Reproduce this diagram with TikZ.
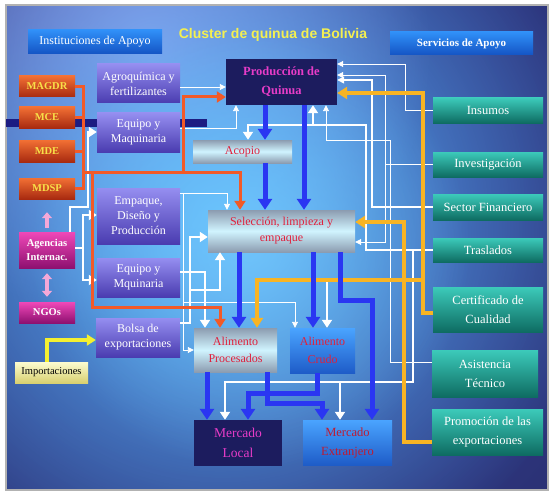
\documentclass[tikz,border=0pt]{standalone}
\usepackage{fontspec}
\setmainfont{Liberation Serif}
\setsansfont{Liberation Sans}
\usetikzlibrary{arrows.meta,fadings}
\definecolor{bgdark}{HTML}{282C68}
\definecolor{bgmid}{HTML}{3A4CB0}
\definecolor{glowblue}{HTML}{5AB8F8}
\definecolor{glowcore}{HTML}{78CCFF}
\definecolor{glowlav}{HTML}{A49CEE}
\definecolor{pTop}{HTML}{958EF0}
\definecolor{pBot}{HTML}{4A3CB0}
\definecolor{tTop}{HTML}{3CCABA}
\definecolor{tBot}{HTML}{0E6C62}
\definecolor{oTop}{HTML}{F27034}
\definecolor{oBot}{HTML}{A82A10}
\definecolor{mTop}{HTML}{F048B8}
\definecolor{mBot}{HTML}{8E1070}
\definecolor{cylEdge}{HTML}{8C9CB0}
\definecolor{cylMid}{HTML}{D0F4FF}
\definecolor{bTop}{HTML}{4AA4FF}
\definecolor{bBot}{HTML}{1E5CC8}
\definecolor{navy}{HTML}{1C1C5E}
\definecolor{hTop}{HTML}{3090F8}
\definecolor{hBot}{HTML}{1454C4}
\definecolor{arrblue}{HTML}{2A36F2}
\definecolor{arrorange}{HTML}{F25A28}
\definecolor{arryellow}{HTML}{F8B424}
\definecolor{impyellow}{HTML}{F4F030}
\definecolor{titleyellow}{HTML}{F4F050}
\definecolor{labyellow}{HTML}{F8E048}
\definecolor{txtred}{HTML}{E0203C}
\definecolor{txtmag}{HTML}{E83CC8}
\definecolor{pinkarr}{HTML}{F4A8D8}
\definecolor{barnavy}{HTML}{1C1C82}
\definecolor{impTop}{HTML}{FCFCD0}
\definecolor{impBot}{HTML}{D8D070}
\tikzfading[name=softglow, inner color=transparent!0, outer color=transparent!100]
\begin{document}
\begin{tikzpicture}[x=1pt,y=-1pt,
  box/.style={inner sep=1pt, align=center, text=white},
  purplebox/.style={box, top color=pTop, bottom color=pBot, minimum width=83, minimum height=39,
    font=\fontsize{12}{15}\selectfont},
  tealbox/.style={box, top color=tTop, bottom color=tBot, minimum width=110,
    font=\fontsize{12.5}{19}\selectfont},
  orbox/.style={box, top color=oTop, bottom color=oBot, minimum width=56, minimum height=21,
    text=labyellow, font=\bfseries\fontsize{10.5}{12}\selectfont},
  magbox/.style={box, top color=mTop, bottom color=mBot, minimum width=56,
    font=\bfseries\fontsize{10.5}{14}\selectfont},
  cylbox/.style={box, top color=cylEdge, bottom color=cylEdge, middle color=cylMid, text=txtred},
  bluebox/.style={box, top color=bTop, bottom color=bBot, text=txtred},
  navybox/.style={box, fill=navy, text=txtmag},
  hdrbox/.style={box, top color=hTop, bottom color=hBot},
  wthin/.style={draw=white, line width=0.9, -{Triangle[width=6pt,length=6pt]}},
  wmed/.style={draw=white, line width=1.6, -{Triangle[width=7pt,length=7pt]}},
  wthick/.style={draw=white, line width=2.6, -{Triangle[width=10pt,length=8pt]}},
  orline/.style={draw=arrorange, line width=3},
  orarr/.style={orline, -{Triangle[width=11pt,length=9pt]}},
  yel/.style={draw=arryellow, line width=3.5, -{Triangle[width=12pt,length=10pt]}},
  imparr/.style={draw=impyellow, line width=3.5, -{Triangle[width=11pt,length=9pt]}},
  bl/.style={draw=arrblue, line width=5, -{Triangle[width=14pt,length=11pt]}},
  pinkarrow/.style={draw=pinkarr, line width=4, -{Triangle[width=10pt,length=6pt]}}
]
\useasboundingbox (0,0) rectangle (552,495);
\fill[white] (0,0) rectangle (552,495);
% background
\begin{scope}
\clip (6,5) rectangle (548,490);
\fill[bgdark] (6,5) rectangle (548,490);
\fill[bgmid, path fading=softglow] (230,200) circle (520);
\fill[glowlav, path fading=softglow, opacity=0.9] (150,50) circle (280);
\fill[glowblue, path fading=softglow] (220,220) circle (390);
\fill[glowcore, path fading=softglow, opacity=0.7] (250,250) circle (220);
\end{scope}
\draw[gray!60, line width=1.2] (6,5) rectangle (548,490);
\fill[barnavy] (6,119) rectangle (207,127);

% title and headers
\node[font=\sffamily\bfseries\fontsize{14}{15}\selectfont, text=titleyellow] (title) at (273,35) {Cluster de quinua de Bolivia};
\node[hdrbox, minimum width=134, minimum height=24, font=\fontsize{12}{13}\selectfont] (inst) at (95,42) {Instituciones de Apoyo};
\node[hdrbox, minimum width=143, minimum height=23, font=\bfseries\fontsize{11}{12}\selectfont] (serv) at (461.5,43.5) {Servicios de Apoyo};

% left institutions
\node[orbox] (magdr) at (47,86.5) {MAGDR};
\node[orbox] (mce) at (47,117.5) {MCE};
\node[orbox, minimum height=22] (mde) at (47,151) {MDE};
\node[orbox] (mdsp) at (47,188.5) {MDSP};
\node[magbox, minimum height=36] (agen) at (47,250) {Agencias\\Internac.};
\node[magbox, minimum height=21] (ngos) at (47,312.5) {NGOs};
\node[box, top color=impTop, bottom color=impBot, text=black, minimum width=73, minimum height=21,
  font=\fontsize{10.5}{12}\selectfont] (impo) at (51.5,372.5) {Importaciones};

% purple boxes
\node[purplebox] (agro) at (138.5,83.5) {Agroquímica y\\fertilizantes};
\node[purplebox] (equ1) at (138.5,132.5) {Equipo y\\Maquinaria};
\node[purplebox, minimum height=56] (emp) at (138.5,216) {Empaque,\\Diseño y\\Producción};
\node[purplebox] (equ2) at (138.5,277.5) {Equipo y\\Mquinaria};
\node[purplebox, minimum width=84] (bolsa) at (138,337.5) {Bolsa de\\exportaciones};

% central chain
\node[navybox, minimum width=111, minimum height=46, font=\bfseries\fontsize{12.5}{19}\selectfont] (prod) at (281.5,82) {Producción de\\Quinua};
\node[cylbox, minimum width=99, minimum height=23, font=\fontsize{12}{13}\selectfont] (acopio) at (242.5,151.5) {Acopio};
\node[cylbox, minimum width=147, minimum height=42, font=\fontsize{12}{16}\selectfont] (selec) at (281.5,231) {Selección, limpieza y\\empaque};
\node[cylbox, minimum width=83, minimum height=44, font=\fontsize{12}{17}\selectfont] (alproc) at (235.5,350) {Alimento\\Procesados};
\node[bluebox, minimum width=65, minimum height=45, font=\fontsize{12}{18}\selectfont] (alcrudo) at (322.5,350.5) {Alimento\\Crudo};
\node[navybox, minimum width=88, minimum height=46, font=\fontsize{13.5}{20}\selectfont] (mlocal) at (238,443) {Mercado\\Local};
\node[bluebox, minimum width=89, minimum height=45, text=txtred!85!black, font=\fontsize{12.5}{19}\selectfont] (mext) at (347.5,442.5) {Mercado\\Extranjero};

% services
\node[tealbox, minimum height=25] (ins) at (488,110.5) {Insumos};
\node[tealbox, minimum height=25] (inv) at (488,164.5) {Investigación};
\node[tealbox, minimum height=26] (sect) at (488,207) {Sector Financiero};
\node[tealbox, minimum height=24] (tras) at (488,250) {Traslados};
\node[tealbox, minimum height=45] (cert) at (488,309.5) {Certificado de\\Cualidad};
\node[tealbox, minimum width=106, minimum height=47] (asis) at (485,373.5) {Asistencia\\Técnico};
\node[tealbox, minimum width=111, minimum height=46] (prom) at (487.5,432) {Promoción de las\\exportaciones};

% junctions
\coordinate (jInv) at (385,164.5);
\coordinate (jEmp) at (183,193);
\coordinate (jAg) at (83,248);
\coordinate (jTr) at (366,125);
\coordinate (jTr2) at (413,250);
\coordinate (jOr) at (83,172);

% thin white connectors
\draw[wthin] (ins.west) -| (405,64) -- (prod.east |- 0,64);
\draw[wthin] (inv.west) -- (jInv) |- (prod.east |- 0,75);
\draw[wthin] (jInv) |- (selec.east |- 0,242);
\draw[wmed] (sect.west) -| (372,80) -- (prod.east |- 0,80);
\draw[wthin] (asis.west |- 0,362) -| (390,140) -| (prod.south -| 326,0);
\draw[wthin] (agro.east |- 0,87) -- (prod.west |- 0,87);
\draw[wthin] (equ1.east |- 0,128) -| (prod.south -| 236,0);
\draw[wthin] (emp.east |- 0,193) -| (selec.north -| 227,0);
\draw[wthin] (jEmp) |- (alproc.west |- 0,350);
\draw[wthin] (183,302) -| (alcrudo.north -| 295,0);

% thick white connectors
\draw[wthick] (tras.west) -| (jTr) -| (acopio.north -| 248,0);
\draw[wthick] (313,125) -- (prod.south -| 313,0);
\draw[wthick] (413,280) -| (alcrudo.north -| 327,0);
\draw[wthick] (jTr2) -- (413,382) -| (mlocal.north -| 225,0);
\draw[wthick] (340,382) -- (mext.north -| 340,0);
\draw[wthick] (agen.north -| 70,0) |- (88,207) |- (equ1.west |- 0,132);
\draw[wthick] (agen.east |- 0,248) -- (jAg) |- (emp.west |- 0,215);
\draw[wthick] (jAg) |- (equ2.west |- 0,280);
\draw[wthick] (equ2.east |- 0,272) -| (alproc.north -| 205,0);
\draw[wthick] (bolsa.east |- 0,323) -| (190,237) -- (selec.west |- 0,237);
\draw[wthick] (190,290) -| (selec.south -| 220,0);

% orange connectors
\draw[orline] (magdr.east) -| (83,188.5) -- (mdsp.east);
\draw[orline] (mce.east) -- (83,117.5);
\draw[orline] (mde.east) -- (83,151);
\draw[orarr] (jOr) -| (selec.north -| 240,0);
\draw[orarr] (183,172) |- (prod.west |- 0,97);
\draw[orarr] (92,172) |- (220,307) -- (alproc.north -| 220,0);

% yellow connectors
\draw[yel] (cert.west |- 0,313) -| (423,93) -- (prod.east |- 0,93);
\draw[yel] (423,280) -| (alproc.north -| 257,0);
\draw[yel] (prom.west |- 0,442) -| (404,222) -- (selec.east |- 0,222);
\draw[imparr] (impo.north -| 47,0) |- (bolsa.west |- 0,340);

% blue flow
\draw[bl] (prod.south -| 265,0) -- (acopio.north -| 265,0);
\draw[bl] (acopio.south -| 265,0) -- (selec.north -| 265,0);
\draw[bl] (prod.south -| 304,0) -- (selec.north -| 304,0);
\draw[bl] (selec.south -| 239,0) -- (alproc.north -| 239,0);
\draw[bl] (selec.south -| 313,0) -- (alcrudo.north -| 313,0);
\draw[bl] (selec.south -| 340,0) |- (372,300) -- (mext.north -| 372,0);
\draw[bl] (alproc.south -| 207,0) -- (mlocal.north -| 207,0);
\draw[bl] (alproc.south -| 267,0) |- (322,403) -- (mext.north -| 322,0);
\draw[bl] (alcrudo.south -| 317,0) |- (248,393) -- (mlocal.north -| 248,0);

% pink arrows
\draw[pinkarrow, shorten <=4pt, shorten >=13pt] (agen.north) -- (mdsp.south);
\draw[pinkarrow, {Triangle[width=10pt,length=6pt]}-{Triangle[width=10pt,length=6pt]}, shorten <=5pt, shorten >=5pt] (agen.south) -- (ngos.north);
\end{tikzpicture}
\end{document}
